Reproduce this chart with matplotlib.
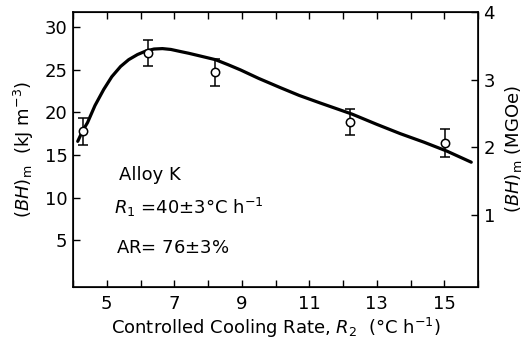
import numpy as np
import matplotlib.pyplot as plt
from matplotlib.ticker import MultipleLocator

plt.rcParams['font.family'] = 'DejaVu Sans'
plt.rcParams['mathtext.fontset'] = 'dejavusans'

# puntos medidos (R2, (BH)m) con barras de error
rate = [4.29, 6.23, 8.2, 12.22, 15.02]
bh = [17.8, 27.0, 24.7, 18.9, 16.4]
err = [1.6, 1.5, 1.6, 1.55, 1.6]

# curva ajustada
curve_x = [4.14, 4.28, 4.43, 4.65, 4.91, 5.15, 5.41, 5.65, 5.91, 6.15, 6.40,
           6.65, 6.90, 7.19, 7.43, 7.8, 8.22, 8.6, 8.96, 9.5, 10.15, 10.7,
           11.33, 12.27, 13.0, 13.7, 14.4, 15.08, 15.8]
curve_y = [16.6, 17.8, 18.8, 20.8, 22.7, 24.2, 25.4, 26.2, 26.8, 27.2, 27.45,
           27.5, 27.4, 27.15, 26.95, 26.6, 26.2, 25.6, 25.0, 24.0, 22.9, 22.0,
           21.1, 19.8, 18.6, 17.5, 16.5, 15.45, 14.15]

KJ_PER_MGOE = 7.958

fig = plt.figure(figsize=(5.29, 3.49), dpi=100)
ax = fig.add_axes([0.138, 0.178, 0.7656, 0.7876])

ax.plot(curve_x, curve_y, "k-", lw=2.3, solid_capstyle="round", solid_joinstyle="round")
ax.errorbar(rate, bh, yerr=err, fmt="o", mfc="white", mec="black", ms=6,
            mew=1.1, ecolor="black", elinewidth=1.1, capsize=3.5, capthick=1.1)

ax.set_xlim(4, 16)
ax.set_ylim(-0.5, 31.8)
ax.set_xticks([5, 7, 9, 11, 13, 15])
ax.xaxis.set_minor_locator(MultipleLocator(1))
ax.set_yticks([5, 10, 15, 20, 25, 30])
ax.tick_params(axis="both", which="both", direction="in", top=True,
               length=5, width=1, labelsize=13, pad=4)
ax.tick_params(axis="x", pad=6)

for s in ax.spines.values():
    s.set_linewidth(1.2)

ax2 = ax.twinx()
lo, hi = ax.get_ylim()
ax2.set_ylim(lo / KJ_PER_MGOE, hi / KJ_PER_MGOE)
ax2.set_yticks([1, 2, 3, 4])
ax2.tick_params(axis="y", direction="in", length=5, width=1, labelsize=13, pad=4)

ax.set_xlabel(r"Controlled Cooling Rate, $\mathit{R}_2$  (°C h$^{-1}$)",
              fontsize=13, labelpad=2)
ax.set_ylabel(r"$(\mathit{BH})_{\rm m}$  (kJ m$^{-3}$)", fontsize=13, labelpad=6)
ax2.set_ylabel(r"$(\mathit{BH})_{\rm m}$ (MGOe)", fontsize=13, labelpad=6)

ax.text(5.35, 12.7, "Alloy K", fontsize=13, va="center")
ax.text(5.2, 8.8, r"$\mathit{R}_1$ =40$\pm$3°C h$^{-1}$", fontsize=13, va="center")
ax.text(5.27, 4.1, r"AR= 76$\pm$3%", fontsize=13, va="center")

fig.savefig("out.png", dpi=100)
